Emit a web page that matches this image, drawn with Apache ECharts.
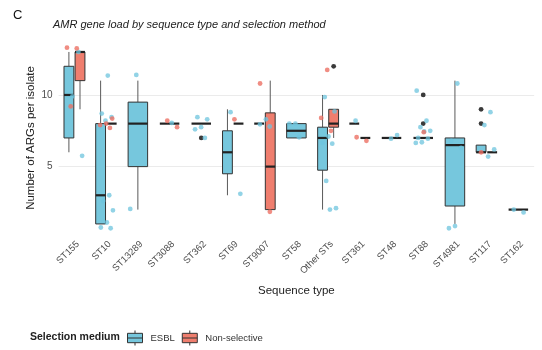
<!DOCTYPE html>
<html>
<head>
<meta charset="utf-8">
<script src="https://cdn.jsdelivr.net/npm/echarts@6/dist/echarts.min.js"></script>
<style>
  html, body { margin: 0; padding: 0; background: #ffffff; }
  #chart { width: 542px; height: 350px; }
</style>
</head>
<body>
<div id="chart"></div>
<script>
// Sequence types along the x axis
const categories = ['ST155', 'ST10', 'ST13289', 'ST3088', 'ST362', 'ST69', 'ST9007', 'ST58',
  'Other STs', 'ST361', 'ST48', 'ST88', 'ST4981', 'ST117', 'ST162'];

// Box statistics per sequence type: [lower whisker, Q1, median, Q3, upper whisker]; null = no isolates
const esblBoxes = [
  [6, 7, 10, 12, 13],
  [1, 1, 3, 8, 11],
  [2, 5, 8, 9.5, 11],
  null,
  [8, 8, 8, 8, 8],
  [3, 4.5, 6, 7.5, 9],
  [8, 8, 8, 8, 8],
  [7, 7, 7.5, 8, 8],
  [2, 4.75, 7, 7.75, 10],
  [8, 8, 8, 8, 8],
  [7, 7, 7, 7, 7],
  [7, 7, 7, 7, 7],
  [1, 2.25, 6.5, 7, 11],
  [6, 6, 6, 6.5, 6.5],
  [2, 2, 2, 2, 2]
];
const nonSelBoxes = [
  [9, 11, 13, 13, 13],
  [8, 8, 8, 8, 8],
  null,
  [8, 8, 8, 8, 8],
  null,
  [8, 8, 8, 8, 8],
  [2, 2, 5, 8.75, 11],
  null,
  [7, 7.75, 8, 9, 9],
  [7, 7, 7, 7, 7],
  null,
  null,
  null,
  [6, 6, 6, 6, 6],
  null
];

// Outlying isolates drawn by the boxplots: [category index, ARGs]
const esblOutliers = [[4, 7], [11, 10], [11, 8], [13, 9], [13, 8]];
const nonSelOutliers = [[8, 12]];

// Individual isolates (jittered): [category index, ARGs]
const esblPoints = [
  [0, 13.0], [0, 9.9], [0, 5.75],
  [1, 11.35], [1, 8.7], [1, 8.45], [1, 8.2], [1, 7.75], [1, 3.0], [1, 2.6], [1, 1.95], [1, 1.1], [1, 0.75], [1, 0.7],
  [2, 11.4], [2, 2.05],
  [3, 8.05],
  [4, 8.45], [4, 8.3], [4, 7.75], [4, 7.6], [4, 7.0],
  [5, 8.8], [5, 3.1],
  [6, 8.3], [6, 7.95], [6, 7.8],
  [7, 8.0], [7, 8.0], [7, 7.05],
  [8, 9.85], [8, 8.85], [8, 7.1], [8, 6.65], [8, 6.6], [8, 4.0], [8, 2.1], [8, 2.0],
  [9, 8.2],
  [10, 7.2], [10, 6.95],
  [11, 10.3], [11, 8.2], [11, 7.75], [11, 7.5], [11, 7.45], [11, 7.0], [11, 6.95], [11, 6.7], [11, 6.65],
  [12, 10.8], [12, 6.8], [12, 6.3], [12, 0.85], [12, 0.7],
  [13, 8.8], [13, 7.9], [13, 6.2], [13, 5.7],
  [14, 2.0], [14, 1.8]
];
const nonSelPoints = [
  [0, 13.3], [0, 13.25], [0, 9.2],
  [1, 8.35], [1, 8.0], [1, 7.9], [1, 7.7],
  [3, 8.2], [3, 7.75],
  [5, 8.3],
  [6, 10.8], [6, 1.85],
  [8, 11.75], [8, 8.4], [8, 7.5],
  [9, 7.05], [9, 6.8],
  [11, 7.4],
  [13, 6.0]
];

const COLORS = { esbl: '#76c7dd', nonSel: '#ef7e6e' };
const POINT_COLORS = { esbl: 'rgba(110, 196, 222, 0.75)', nonSel: 'rgba(236, 112, 100, 0.8)' };

function hasBoth(i) { return !!(esblBoxes[i] && nonSelBoxes[i]); }

// Horizontal placement of a box inside its category band
function boxPlacement(api, i, side) {
  const band = api.size([1, 0])[0];
  const center = api.coord([i, 0])[0];
  if (hasBoth(i)) {
    return { cx: center + side * band * 0.175, w: band * 0.31 };
  }
  return { cx: center, w: band * 0.615 };
}

function boxRenderer(side, fill) {
  return function (params, api) {
    const i = api.value(0);
    const lo = api.value(1), q1 = api.value(2), med = api.value(3), q3 = api.value(4), hi = api.value(5);
    const p = boxPlacement(api, i, side);
    const y = v => api.coord([i, v])[1];
    const x0 = p.cx - p.w / 2, x1 = p.cx + p.w / 2;
    const children = [];
    if (hi > q3) children.push({ type: 'line', shape: { x1: p.cx, y1: y(q3), x2: p.cx, y2: y(hi) }, style: { stroke: '#5a5a5a', lineWidth: 1 } });
    if (lo < q1) children.push({ type: 'line', shape: { x1: p.cx, y1: y(q1), x2: p.cx, y2: y(lo) }, style: { stroke: '#5a5a5a', lineWidth: 1 } });
    if (q3 > q1) children.push({ type: 'rect', shape: { x: x0, y: y(q3), width: p.w, height: y(q1) - y(q3) }, style: { fill: fill, stroke: '#333333', lineWidth: 1 } });
    children.push({ type: 'line', shape: { x1: x0, y1: y(med), x2: x1, y2: y(med) }, style: { stroke: '#222222', lineWidth: 2.2 } });
    return { type: 'group', children: children };
  };
}

function outlierRenderer(side) {
  return function (params, api) {
    const i = api.value(0);
    const p = boxPlacement(api, i, side);
    const yy = api.coord([i, api.value(1)])[1];
    return { type: 'circle', shape: { cx: p.cx, cy: yy, r: 2.4 }, style: { fill: '#3a3a3a' } };
  };
}

// Deterministic horizontal spread of isolates around the category centre
function pointRenderer(color, phase) {
  return function (params, api) {
    const i = api.value(0);
    const band = api.size([1, 0])[0];
    const c = api.coord([i, api.value(1)]);
    const frac = ((params.dataIndex + 1) * 0.6180339887 + phase) % 1;
    const dx = (frac - 0.5) * band * 0.5;
    return { type: 'circle', shape: { cx: c[0] + dx, cy: c[1], r: 2.4 }, style: { fill: color } };
  };
}

function boxRows(boxes) {
  const rows = [];
  boxes.forEach((b, i) => { if (b) rows.push([i].concat(b)); });
  return rows;
}

const boxIcon = 'path://M0 3 L16 3 L16 13 L0 13 Z M0 8 L16 8 M8 0 L8 3 M8 13 L8 16';

const chart = echarts.init(document.getElementById('chart'), null, { renderer: 'canvas' });

chart.setOption({
  animation: false,
  backgroundColor: '#ffffff',
  textStyle: { fontFamily: 'Liberation Sans, Arial, sans-serif' },
  title: [
    { text: 'C', left: 13, top: 9, padding: 0, textStyle: { fontSize: 13, fontWeight: 'normal', color: '#111' } },
    { text: 'AMR gene load by sequence type and selection method', left: 53, top: 19, padding: 0,
      textStyle: { fontSize: 11, fontStyle: 'italic', fontWeight: 'normal', color: '#222' } },
    { text: 'Selection medium', left: 30, top: 332, padding: 0, textStyle: { fontSize: 10.5, fontWeight: 'bold', color: '#222' } }
  ],
  legend: {
    left: 127, top: 330, padding: 0, itemWidth: 15, itemHeight: 15, itemGap: 7,
    textStyle: { fontSize: 9.5, color: '#333', padding: [0, 0, 0, 3] },
    selectedMode: false,
    data: [
      { name: 'ESBL', icon: boxIcon, itemStyle: { color: COLORS.esbl, borderColor: '#333', borderWidth: 1 } },
      { name: 'Non-selective', icon: boxIcon, itemStyle: { color: COLORS.nonSel, borderColor: '#333', borderWidth: 1 } }
    ]
  },
  grid: { left: 58.6, right: 7.8, top: 44.8, bottom: 118.9 },
  xAxis: {
    type: 'category',
    data: categories,
    boundaryGap: true,
    name: 'Sequence type',
    nameLocation: 'middle',
    nameGap: 54,
    nameTextStyle: { fontSize: 11.5, color: '#222' },
    axisLine: { show: false },
    axisTick: { show: false },
    axisLabel: { rotate: 45, fontSize: 9.5, color: '#4d4d4d', margin: 8, interval: 0, verticalAlign: 'top' },
    splitLine: { show: false }
  },
  yAxis: {
    type: 'value',
    min: 0.5,
    max: 13.5,
    name: 'Number of ARGs per isolate',
    nameLocation: 'middle',
    nameGap: 22,
    nameMoveOverlap: false,
    nameTextStyle: { fontSize: 11.5, color: '#222' },
    axisLine: { show: false },
    axisTick: { show: false, customValues: [5, 10] },
    axisLabel: { fontSize: 10, color: '#4d4d4d', margin: 6, customValues: [5, 10] },
    splitLine: { show: true, lineStyle: { color: '#ebebeb', width: 1 } }
  },
  series: [
    { name: 'ESBL', type: 'custom', renderItem: boxRenderer(-1, COLORS.esbl), data: boxRows(esblBoxes),
      itemStyle: { color: COLORS.esbl }, encode: { x: 0, y: [1, 2, 3, 4, 5] }, z: 2 },
    { name: 'Non-selective', type: 'custom', renderItem: boxRenderer(1, COLORS.nonSel), data: boxRows(nonSelBoxes),
      itemStyle: { color: COLORS.nonSel }, encode: { x: 0, y: [1, 2, 3, 4, 5] }, z: 2 },
    { name: 'ESBL outliers', type: 'custom', renderItem: outlierRenderer(-1), data: esblOutliers, encode: { x: 0, y: 1 }, z: 3 },
    { name: 'Non-selective outliers', type: 'custom', renderItem: outlierRenderer(1), data: nonSelOutliers, encode: { x: 0, y: 1 }, z: 3 },
    { name: 'ESBL isolates', type: 'custom', renderItem: pointRenderer(POINT_COLORS.esbl, 0.13), data: esblPoints, encode: { x: 0, y: 1 }, z: 4 },
    { name: 'Non-selective isolates', type: 'custom', renderItem: pointRenderer(POINT_COLORS.nonSel, 0.41), data: nonSelPoints, encode: { x: 0, y: 1 }, z: 4 }
  ]
});
</script>
</body>
</html>
